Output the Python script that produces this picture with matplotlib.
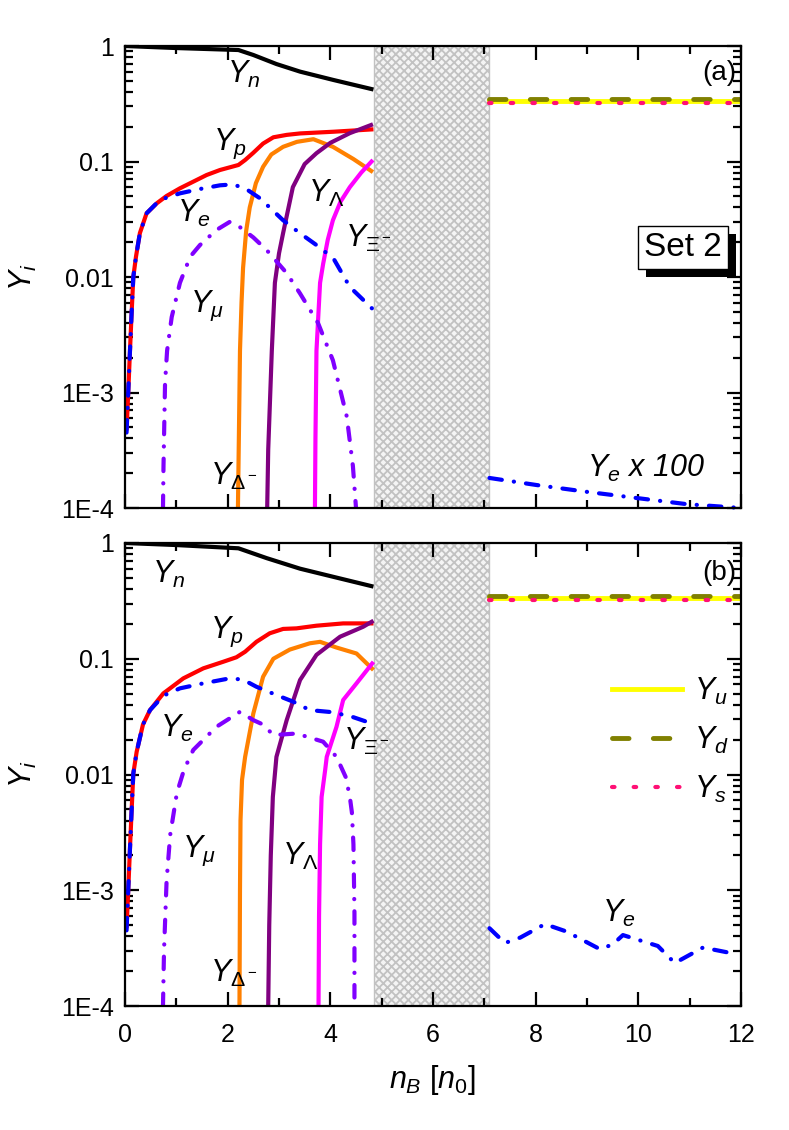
import numpy as np
import matplotlib
matplotlib.use("Agg")
import matplotlib.pyplot as plt
from matplotlib.ticker import FixedLocator, FixedFormatter, LogLocator, NullFormatter, MultipleLocator
import matplotlib.patheffects as pe
from matplotlib.patches import Rectangle

plt.rcParams['font.family'] = ['Liberation Sans', 'DejaVu Sans']
plt.rcParams['mathtext.fontset'] = 'custom'
plt.rcParams['mathtext.rm'] = 'Liberation Sans'
plt.rcParams['mathtext.it'] = 'Liberation Sans:italic'
plt.rcParams['mathtext.bf'] = 'Liberation Sans:bold'
plt.rcParams['hatch.linewidth'] = 1.3

# ---------------- data: panel (a) ----------------
a_n_x = [0.0, 1.0, 2.21, 2.5, 2.95, 3.41, 4.06, 4.84]
a_n_y = [1.0, 0.96, 0.923, 0.836, 0.698, 0.60, 0.508, 0.42]

a_p_x = [0.03, 0.065, 0.097, 0.13, 0.162, 0.214, 0.29, 0.42, 0.62, 0.81, 1.07, 1.33, 1.59, 1.85, 2.21, 2.34, 2.5, 2.69, 2.89, 3.15, 3.41, 4.06, 4.84]
a_p_y = [4.7e-4, 1.05e-3, 2.3e-3, 5e-3, 0.01, 0.015, 0.024, 0.0356, 0.0435, 0.0503, 0.0586, 0.0669, 0.0764, 0.0844, 0.0933, 0.103, 0.119, 0.143, 0.162, 0.170, 0.175, 0.181, 0.19]

a_e_x = [0.03, 0.065, 0.097, 0.13, 0.162, 0.214, 0.29, 0.42, 0.68, 1.07, 1.46, 1.85, 2.11, 2.37, 2.63, 3.08, 3.41, 3.73, 4.06, 4.19, 4.38, 4.84]
a_e_y = [4.5e-4, 1.05e-3, 2.3e-3, 5e-3, 0.01, 0.015, 0.024, 0.0356, 0.0465, 0.053, 0.0578, 0.0622, 0.0634, 0.0574, 0.048, 0.031, 0.0239, 0.0189, 0.0145, 0.0115, 0.0082, 0.0052]

a_mu_x = [0.74, 0.75, 0.78, 0.82, 0.91, 1.07, 1.27, 1.46, 1.78, 2.04, 2.24, 2.5, 2.76, 3.15, 3.41, 3.76, 4.05, 4.32, 4.44, 4.5]
a_mu_y = [1e-4, 2.3e-4, 1.2e-3, 2.3e-3, 4.5e-3, 8.9e-3, 0.015, 0.0189, 0.0255, 0.030, 0.027, 0.022, 0.0171, 0.0108, 0.0072, 0.004, 1.9e-3, 6.2e-4, 2.3e-4, 1e-4]

a_D_x = [2.2, 2.22, 2.24, 2.27, 2.3, 2.36, 2.43, 2.55, 2.69, 2.85, 3.08, 3.35, 3.67, 4.05, 4.45, 4.83]
a_D_y = [1e-4, 4.7e-4, 2.3e-3, 6e-3, 0.012, 0.025, 0.04, 0.065, 0.09, 0.115, 0.134, 0.148, 0.156, 0.134, 0.105, 0.081]

a_L_x = [2.77, 2.79, 2.86, 2.92, 3.0, 3.08, 3.27, 3.5, 3.73, 4.0, 4.38, 4.83]
a_L_y = [1e-4, 3.2e-4, 2.3e-3, 8.9e-3, 0.016, 0.024, 0.06, 0.095, 0.118, 0.145, 0.176, 0.21]

a_X_x = [3.70, 3.71, 3.73, 3.77, 3.80, 3.86, 3.95, 4.05, 4.2, 4.38, 4.6, 4.83]
a_X_y = [1e-4, 4e-4, 2.3e-3, 5e-3, 8.9e-3, 0.013, 0.021, 0.031, 0.045, 0.06, 0.08, 0.103]

q_x = [7.1, 12.0]
a_u_y = [0.335, 0.335]
a_d_y = [0.345, 0.345]
a_s_y = [0.321, 0.321]

a_eq_x = [7.1, 8.02, 9.0, 9.97, 10.94, 12.0]
a_eq_y = [1.82e-4, 1.58e-4, 1.38e-4, 1.22e-4, 1.08e-4, 1.0e-4]   # Y_e x 100

# ---------------- data: panel (b) ----------------
b_n_x = [0.0, 1.0, 2.21, 2.76, 3.41, 4.06, 4.84]
b_n_y = [1.0, 0.96, 0.90, 0.74, 0.60, 0.51, 0.42]

b_p_x = [0.03, 0.065, 0.097, 0.13, 0.162, 0.227, 0.35, 0.487, 0.747, 1.136, 1.525, 1.914, 2.17, 2.34, 2.56, 2.82, 3.08, 3.34, 3.73, 4.25, 4.84]
b_p_y = [4.7e-4, 1.05e-3, 2.3e-3, 5e-3, 0.0102, 0.0157, 0.027, 0.036, 0.0502, 0.0677, 0.0826, 0.0942, 0.103, 0.115, 0.140, 0.166, 0.181, 0.183, 0.193, 0.202, 0.202]

b_e_x = [0.03, 0.065, 0.097, 0.13, 0.162, 0.227, 0.35, 0.487, 0.75, 1.07, 1.525, 2.04, 2.3, 2.56, 2.95, 3.28, 3.6, 3.99, 4.38, 4.84]
b_e_y = [4.5e-4, 1.05e-3, 2.3e-3, 5e-3, 0.0102, 0.0157, 0.027, 0.036, 0.048, 0.0555, 0.0613, 0.0677, 0.066, 0.0573, 0.0486, 0.0425, 0.036, 0.0347, 0.032, 0.0273]

b_mu_x = [0.74, 0.76, 0.81, 0.88, 1.01, 1.15, 1.33, 1.78, 2.24, 2.5, 2.69, 2.89, 3.34, 3.86, 4.12, 4.3, 4.38, 4.42, 4.45, 4.47, 4.47]
b_mu_y = [1e-4, 3e-4, 1.2e-3, 3e-3, 6.9e-3, 0.011, 0.0163, 0.0258, 0.0348, 0.0295, 0.027, 0.0219, 0.0226, 0.0192, 0.0142, 0.0095, 0.0064, 0.0047, 0.0025, 6.3e-4, 1e-4]

b_D_x = [2.23, 2.24, 2.25, 2.28, 2.34, 2.5, 2.69, 2.89, 3.21, 3.6, 3.8, 4.12, 4.51, 4.84]
b_D_y = [1e-4, 1e-3, 4e-3, 0.009, 0.0142, 0.0337, 0.0699, 0.10, 0.12, 0.136, 0.140, 0.125, 0.111, 0.08]

b_L_x = [2.79, 2.81, 2.84, 2.88, 2.95, 3.15, 3.41, 3.73, 4.19, 4.64, 4.84]
b_L_y = [1e-4, 5e-4, 2e-3, 6.4e-3, 0.0142, 0.0295, 0.0655, 0.108, 0.155, 0.189, 0.213]

b_X_x = [3.77, 3.78, 3.80, 3.83, 3.9, 3.93, 4.12, 4.25, 4.51, 4.84]
b_X_y = [1e-4, 6e-4, 2.5e-3, 6.4e-3, 0.011, 0.0142, 0.0258, 0.044, 0.0613, 0.094]

b_u_y = [0.335, 0.335]
b_d_y = [0.345, 0.345]
b_s_y = [0.321, 0.321]

b_eq_x = [7.1, 7.4, 7.7, 8.18, 8.6, 9.25, 9.5, 9.7, 10.38, 10.71, 11.26, 11.92]
b_eq_y = [4.7e-4, 3.5e-4, 3.9e-4, 5.1e-4, 4.4e-4, 3.1e-4, 3.4e-4, 4.1e-4, 3.3e-4, 2.35e-4, 3.2e-4, 2.8e-4]

mixed_lo, mixed_hi = 4.85, 7.1
ytick_vals = [1e-4, 1e-3, 1e-2, 1e-1, 1]
ytick_labels = ['1E-4', '1E-3', '0.01', '0.1', '1']
xtick_vals = [0, 2, 4, 6, 8, 10, 12]
xtick_labels = ['0', '2', '4', '6', '8', '10', '12']

# ---------------- styles ----------------
LW = 3.0
dashdot = (0, (3.0, 2.9, 0.05, 2.9))
dashed = (0, (3.4, 5.0))
dotted = (0, (0.6, 4.6))
c_n, c_p, c_e, c_mu = 'black', '#ff0000', '#0000ff', '#8000ff'
c_D, c_L, c_X = '#ff8000', '#800080', '#ff00ff'
c_u, c_d, c_s = '#ffff00', '#808000', '#ff1075'

W, H = 789, 1130
fig = plt.figure(figsize=(W / 100, H / 100), dpi=100)

def ax_rect(l, t, r, b):
    return [l / W, 1 - b / H, (r - l) / W, (b - t) / H]

axA = fig.add_axes(ax_rect(125, 46, 741, 508))
axB = fig.add_axes(ax_rect(125, 543, 741, 1006))

def ftext(px, py, s, size=22, **kw):
    fig.text(px / W, 1 - py / H, s, fontsize=size, ha='left', va='baseline', **kw)

def setup(ax, show_x):
    ax.set_yscale('log')
    ax.set_xlim(0, 12)
    ax.set_ylim(1e-4, 1)
    ax.add_patch(Rectangle((mixed_lo, 0), mixed_hi - mixed_lo, 1, transform=ax.get_xaxis_transform(),
                           facecolor='#f4f4f4', edgecolor='#c2c2c2', hatch='xxxx', lw=1.0, zorder=0.5))
    for s in ax.spines.values():
        s.set_linewidth(1.6)
        s.set_zorder(10)
    ax.yaxis.set_major_locator(FixedLocator(ytick_vals))
    ax.yaxis.set_major_formatter(FixedFormatter(ytick_labels))
    ax.yaxis.set_minor_locator(LogLocator(base=10, subs=np.arange(2, 10), numticks=20))
    ax.yaxis.set_minor_formatter(NullFormatter())
    ax.xaxis.set_major_locator(FixedLocator(xtick_vals))
    ax.xaxis.set_minor_locator(MultipleLocator(1))
    if show_x:
        ax.xaxis.set_major_formatter(FixedFormatter(xtick_labels))
    else:
        ax.xaxis.set_major_formatter(NullFormatter())
    ax.tick_params(which='both', direction='in', top=True, right=True, width=1.6, labelsize=18)
    ax.tick_params(which='major', length=10)
    ax.tick_params(which='minor', length=6)
    ax.tick_params(axis='y', pad=8)
    ax.tick_params(axis='x', pad=12)
    ax.set_ylabel('$Y_i$', fontsize=22, labelpad=16)

def draw_panel(ax, d):
    kw = dict(lw=LW, solid_capstyle='butt', solid_joinstyle='round')
    ax.plot(d['n'][0], d['n'][1], color=c_n, zorder=3, **kw)
    ax.plot(d['p'][0], d['p'][1], color=c_p, zorder=3, **kw)
    ax.plot(d['D'][0], d['D'][1], color=c_D, zorder=3, **kw)
    ax.plot(d['L'][0], d['L'][1], color=c_L, zorder=3, **kw)
    ax.plot(d['X'][0], d['X'][1], color=c_X, zorder=3, **kw)
    ax.plot(d['mu'][0], d['mu'][1], color=c_mu, lw=LW, ls=dashdot, dash_capstyle='round', zorder=4)
    ax.plot(d['e'][0], d['e'][1], color=c_e, lw=LW, ls=dashdot, dash_capstyle='round', zorder=4)
    ax.plot(q_x, d['u'], color=c_u, lw=LW + 0.5, zorder=3, label='$Y_u$')
    ax.plot(q_x, d['d'], color=c_d, lw=LW + 0.5, ls=dashed, dash_capstyle='round', zorder=4, label='$Y_d$')
    ax.plot(q_x, d['s'], color=c_s, lw=LW, ls=dotted, dash_capstyle='round', zorder=5, label='$Y_s$')
    ax.plot(d['eq'][0], d['eq'][1], color=c_e, lw=LW, ls=dashdot, dash_capstyle='round', zorder=4, clip_on=False)

setup(axA, False)
setup(axB, True)

draw_panel(axA, dict(n=(a_n_x, a_n_y), p=(a_p_x, a_p_y), e=(a_e_x, a_e_y), mu=(a_mu_x, a_mu_y),
                     D=(a_D_x, a_D_y), L=(a_L_x, a_L_y), X=(a_X_x, a_X_y),
                     u=a_u_y, d=a_d_y, s=a_s_y, eq=(a_eq_x, a_eq_y)))
draw_panel(axB, dict(n=(b_n_x, b_n_y), p=(b_p_x, b_p_y), e=(b_e_x, b_e_y), mu=(b_mu_x, b_mu_y),
                     D=(b_D_x, b_D_y), L=(b_L_x, b_L_y), X=(b_X_x, b_X_y),
                     u=b_u_y, d=b_d_y, s=b_s_y, eq=(b_eq_x, b_eq_y)))

axB.set_xlabel('$n_B\\ [n_0]$', fontsize=22, labelpad=12)

# legend (panel b)
handles, labels = axB.get_legend_handles_labels()
leg = axB.legend(handles, labels, loc='upper left', bbox_to_anchor=(612 / W, 1 - 676 / H),
                 bbox_transform=fig.transFigure, frameon=False, fontsize=22,
                 handlelength=2.3, handletextpad=0.4, labelspacing=0.58, borderpad=0, borderaxespad=0)

# labels panel (a)
ftext(227, 83, '$Y_n$')
ftext(213, 150, '$Y_p$')
ftext(308, 202, '$Y_\\Lambda$')
ftext(177, 222, '$Y_e$')
ftext(345, 247, '$Y_{\\Xi^-}$')
ftext(190, 312, '$Y_\\mu$')
ftext(210, 485, '$Y_{\\Delta^-}$')
ftext(587, 477, '$Y_e$ x 100', style='italic')
fig.text(736 / W, 1 - 80 / H, '(a)', fontsize=20, ha='right', va='baseline')
t = fig.text(683 / W, 1 - 247 / H, 'Set 2', fontsize=24, ha='center', va='center',
             bbox=dict(boxstyle='square,pad=0.18', fc='white', ec='black', lw=1.0))
t.get_bbox_patch().set_path_effects([pe.SimplePatchShadow(offset=(6, -6), shadow_rgbFace='black', alpha=1.0), pe.Normal()])

# labels panel (b)
ftext(152, 583, '$Y_n$')
ftext(210, 638, '$Y_p$')
ftext(160, 737, '$Y_e$')
ftext(343, 750, '$Y_{\\Xi^-}$')
ftext(182, 857, '$Y_\\mu$')
ftext(282, 865, '$Y_\\Lambda$')
ftext(210, 982, '$Y_{\\Delta^-}$')
ftext(602, 922, '$Y_e$')
fig.text(736 / W, 1 - 580 / H, '(b)', fontsize=20, ha='right', va='baseline')

fig.savefig('out.png', dpi=100)
